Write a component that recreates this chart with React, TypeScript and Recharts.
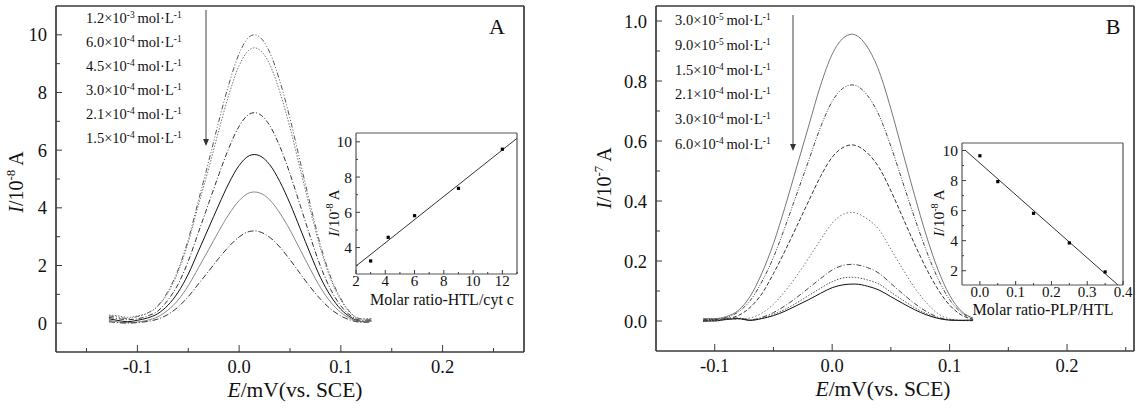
import React from "react";
import { LineChart, Line, XAxis, YAxis, ComposedChart, Scatter } from "recharts";

const FONT = '"Liberation Serif", "Times New Roman", serif';
const AXIS = "#3a3a3a";

// ---- panel A: DPV curves, E (V) vs I (1e-8 A)
const potA = [-0.128, -0.12, -0.11, -0.1, -0.09, -0.08, -0.07, -0.06, -0.05, -0.04, -0.03, -0.02, -0.01, 0, 0.01, 0.015, 0.02, 0.03, 0.04, 0.05, 0.06, 0.07, 0.08, 0.09, 0.1, 0.11, 0.12, 0.13];
const curA1 = [0.25, 0.22, 0.16, 0.23, 0.35, 0.6, 1.1, 1.85, 2.9, 4.25, 5.6, 7.0, 8.3, 9.35, 9.93, 10.0, 9.93, 9.4, 8.4, 7.1, 5.6, 4.1, 2.7, 1.6, 0.85, 0.35, 0.15, 0.15];
const curA2 = [0.28, 0.26, 0.2, 0.25, 0.35, 0.58, 1.05, 1.78, 2.8, 4.1, 5.35, 6.68, 7.93, 8.93, 9.48, 9.55, 9.48, 8.98, 8.02, 6.78, 5.35, 3.92, 2.58, 1.53, 0.8, 0.33, 0.14, 0.15];
const curA3 = [0.2, 0.16, 0.12, 0.15, 0.25, 0.42, 0.8, 1.35, 2.15, 3.15, 4.15, 5.15, 6.08, 6.83, 7.25, 7.3, 7.25, 6.86, 6.13, 5.18, 4.09, 2.99, 1.97, 1.17, 0.6, 0.25, 0.1, 0.12];
const curA4 = [0.15, 0.1, 0.05, 0.1, 0.18, 0.33, 0.62, 1.07, 1.7, 2.5, 3.3, 4.1, 4.86, 5.47, 5.81, 5.85, 5.81, 5.5, 4.91, 4.15, 3.28, 2.4, 1.58, 0.94, 0.48, 0.2, 0.06, 0.08];
const curA5 = [0.1, 0.05, 0.02, 0.04, 0.1, 0.22, 0.45, 0.8, 1.3, 1.92, 2.55, 3.19, 3.78, 4.25, 4.52, 4.55, 4.52, 4.28, 3.82, 3.23, 2.55, 1.87, 1.23, 0.73, 0.37, 0.15, 0.05, 0.06];
const curA6 = [0.05, 0.02, 0, 0.02, 0.06, 0.14, 0.3, 0.56, 0.92, 1.36, 1.8, 2.25, 2.66, 2.99, 3.18, 3.2, 3.17, 2.98, 2.64, 2.2, 1.72, 1.25, 0.83, 0.49, 0.25, 0.1, 0.03, 0.04];
const concA = [["1.2", "-3"], ["6.0", "-4"], ["4.5", "-4"], ["3.0", "-4"], ["2.1", "-4"], ["1.5", "-4"]];

// ---- panel B: DPV curves, E (V) vs I (1e-7 A)
const potB = [-0.11, -0.1, -0.09, -0.08, -0.07, -0.06, -0.05, -0.04, -0.03, -0.02, -0.01, 0, 0.01, 0.017, 0.02, 0.03, 0.04, 0.05, 0.06, 0.07, 0.08, 0.09, 0.1, 0.11, 0.12];
const curB1 = [0.008, 0.008, 0.015, 0.035, 0.081, 0.158, 0.258, 0.382, 0.516, 0.65, 0.784, 0.889, 0.945, 0.956, 0.953, 0.913, 0.832, 0.707, 0.564, 0.421, 0.287, 0.172, 0.086, 0.033, 0.01];
const curB2 = [0.005, 0.006, 0.012, 0.03, 0.067, 0.13, 0.212, 0.315, 0.425, 0.535, 0.645, 0.732, 0.778, 0.787, 0.785, 0.752, 0.685, 0.582, 0.464, 0.346, 0.236, 0.142, 0.071, 0.028, 0.008];
const curB3 = [0.005, 0.005, 0.008, 0.018, 0.045, 0.09, 0.158, 0.235, 0.317, 0.4, 0.481, 0.546, 0.58, 0.587, 0.585, 0.56, 0.511, 0.434, 0.346, 0.258, 0.176, 0.106, 0.053, 0.02, 0.006];
const curB4 = [0.005, 0.005, 0.006, 0.006, 0.01, 0.026, 0.056, 0.1, 0.152, 0.21, 0.27, 0.326, 0.357, 0.362, 0.36, 0.34, 0.304, 0.239, 0.174, 0.112, 0.062, 0.025, 0.007, 0.002, 0];
const curB5 = [0.0, 0.003, 0.008, 0.01, 0.004, 0.012, 0.028, 0.051, 0.079, 0.11, 0.141, 0.17, 0.186, 0.189, 0.188, 0.178, 0.159, 0.125, 0.091, 0.059, 0.032, 0.013, 0.004, 0.002, 0.003];
const curB6 = [0.0, 0.002, 0.006, 0.008, 0.003, 0.009, 0.022, 0.039, 0.061, 0.085, 0.109, 0.131, 0.144, 0.146, 0.145, 0.137, 0.123, 0.096, 0.07, 0.045, 0.025, 0.01, 0.003, 0.002, 0.003];
const curB7 = [0.0, 0.0, 0.005, 0.008, 0.002, 0.008, 0.018, 0.033, 0.052, 0.071, 0.092, 0.111, 0.121, 0.123, 0.123, 0.116, 0.103, 0.081, 0.059, 0.038, 0.021, 0.009, 0.003, 0.002, 0.003];
const concB = [["3.0", "-5"], ["9.0", "-5"], ["1.5", "-4"], ["2.1", "-4"], ["3.0", "-4"], ["6.0", "-4"]];

// ---- insets
const ratioHTL = [3, 4.2, 6, 9, 12];
const peakHTL = [3.24, 4.58, 5.81, 7.36, 9.58];
const fitHTLx = [2, 13];
const fitHTLy = [2.95, 10.2];
const ratioPLP = [0, 0.05, 0.15, 0.25, 0.35];
const peakPLP = [9.65, 7.93, 5.82, 3.85, 1.92];
const fitPLPx = [-0.04, 0.386];
const fitPLPy = [10.0, 1.05];

// ---- ticks
const aXTicks = [-0.15, -0.1, -0.05, 0, 0.05, 0.1, 0.15, 0.2, 0.25];
const aXLabels = [-0.1, 0, 0.1, 0.2];
const aYTicks = [0, 1, 2, 3, 4, 5, 6, 7, 8, 9, 10];
const aYLabels = [0, 2, 4, 6, 8, 10];
const bXTicks = [-0.1, -0.05, 0, 0.05, 0.1, 0.15, 0.2, 0.25];
const bXLabels = [-0.1, 0, 0.1, 0.2];
const bYTicks = [0, 0.1, 0.2, 0.3, 0.4, 0.5, 0.6, 0.7, 0.8, 0.9, 1.0];
const bYLabels = [0, 0.2, 0.4, 0.6, 0.8, 1.0];
const iaXTicks = [2, 3, 4, 5, 6, 7, 8, 9, 10, 11, 12, 13];
const iaXLabels = [2, 4, 6, 8, 10, 12];
const iaYTicks = [3, 4, 5, 6, 7, 8, 9, 10];
const iaYLabels = [4, 6, 8, 10];
const ibXTicks = [0, 0.05, 0.1, 0.15, 0.2, 0.25, 0.3, 0.35, 0.4];
const ibXLabels = [0, 0.1, 0.2, 0.3, 0.4];
const ibYTicks = [2, 3, 4, 5, 6, 7, 8, 9, 10];
const ibYLabels = [2, 4, 6, 8, 10];

const stylesA = [
  { stroke: "#555", dash: "5 2 1 2 1 2" },
  { stroke: "#777", dash: "1.5 1.5" },
  { stroke: "#333", dash: "5 2 1 2" },
  { stroke: "#111", dash: undefined },
  { stroke: "#888", dash: undefined },
  { stroke: "#333", dash: "6 2 1 2" },
];
const stylesB = [
  { stroke: "#777", dash: undefined },
  { stroke: "#444", dash: "4 1.5 1 1.5 1 1.5" },
  { stroke: "#333", dash: "4 2" },
  { stroke: "#777", dash: "1.5 2" },
  { stroke: "#444", dash: "5 2 1 2" },
  { stroke: "#555", dash: "1.5 1.5" },
  { stroke: "#111", dash: undefined },
];

const dataA = potA.map((x, i) => {
  const row: any = { x };
  [curA1, curA2, curA3, curA4, curA5, curA6].forEach((c, k) => (row["c" + k] = c[i]));
  return row;
});
const dataB = potB.map((x, i) => {
  const row: any = { x };
  [curB1, curB2, curB3, curB4, curB5, curB6, curB7].forEach((c, k) => (row["c" + k] = c[i]));
  return row;
});
const htlPts = ratioHTL.map((x, i) => ({ x, y: peakHTL[i] }));
const htlFit = fitHTLx.map((x, i) => ({ x, y: fitHTLy[i] }));
const plpPts = ratioPLP.map((x, i) => ({ x, y: peakPLP[i] }));
const plpFit = fitPLPx.map((x, i) => ({ x, y: fitPLPy[i] }));

const isIn = (v: number, list: number[]) => list.some((l) => Math.abs(l - v) < 1e-6);

type TickOpts = { labels: number[]; fmt: (v: number) => string; gap: number; major: number; minor: number; size: number };

function leftTick(o: TickOpts) {
  return (p: any) => {
    const v = p.payload.value;
    const big = isIn(v, o.labels);
    const ax = p.x + o.gap;
    return (
      <g>
        <line x1={ax} x2={ax + (big ? o.major : o.minor)} y1={p.y} y2={p.y} stroke={AXIS} strokeWidth={1} />
        {big && (
          <text x={p.x} y={p.y} dy="0.36em" textAnchor="end" fontSize={o.size} fontFamily={FONT} fill="#111">
            {o.fmt(v)}
          </text>
        )}
      </g>
    );
  };
}

function bottomTick(o: TickOpts) {
  return (p: any) => {
    const v = p.payload.value;
    const big = isIn(v, o.labels);
    const ay = p.y - o.gap;
    return (
      <g>
        <line x1={p.x} x2={p.x} y1={ay} y2={ay - (big ? o.major : o.minor)} stroke={AXIS} strokeWidth={1} />
        {big && (
          <text x={p.x} y={p.y} dy="0.72em" textAnchor="middle" fontSize={o.size} fontFamily={FONT} fill="#111">
            {o.fmt(v)}
          </text>
        )}
      </g>
    );
  };
}

const f1 = (v: number) => v.toFixed(1);
const f0 = (v: number) => String(Math.round(v));

function MainPanel(props: {
  data: any[];
  styles: { stroke: string; dash?: string }[];
  xd: [number, number];
  yd: [number, number];
  xTicks: number[];
  xLabels: number[];
  yTicks: number[];
  yLabels: number[];
  yFmt: (v: number) => string;
  width: number;
  margin: any;
}) {
  const axisLine = { stroke: AXIS, strokeWidth: 1.7 };
  return (
    <LineChart width={props.width} height={408} data={props.data} margin={props.margin}>
      <XAxis
        dataKey="x"
        type="number"
        domain={props.xd}
        allowDataOverflow
        ticks={props.xTicks}
        interval={0}
        height={30}
        tickSize={0}
        tickLine={false}
        tickMargin={8}
        axisLine={axisLine}
        tick={bottomTick({ labels: props.xLabels, fmt: f1, gap: 8, major: 7, minor: 4, size: 18.5 })}
      />
      <XAxis xAxisId="top" orientation="top" type="number" domain={props.xd} height={1} tick={false} tickLine={false} axisLine={axisLine} />
      <YAxis
        type="number"
        domain={props.yd}
        allowDataOverflow
        ticks={props.yTicks}
        interval={0}
        width={40}
        tickSize={0}
        tickLine={false}
        tickMargin={9}
        axisLine={axisLine}
        tick={leftTick({ labels: props.yLabels, fmt: props.yFmt, gap: 9, major: 6, minor: 4, size: 18.5 })}
      />
      <YAxis yAxisId="right" orientation="right" type="number" domain={props.yd} width={1} tick={false} tickLine={false} axisLine={axisLine} />
      {props.styles.map((s, k) => (
        <Line
          key={k}
          dataKey={"c" + k}
          type="monotone"
          stroke={s.stroke}
          strokeDasharray={s.dash}
          strokeWidth={1}
          dot={false}
          isAnimationActive={false}
        />
      ))}
    </LineChart>
  );
}

function Inset(props: {
  pts: any[];
  fit: any[];
  xd: [number, number];
  yd: [number, number];
  xTicks: number[];
  xLabels: number[];
  xFmt: (v: number) => string;
  yTicks: number[];
  yLabels: number[];
  width: number;
  margin: any;
}) {
  const axisLine = { stroke: "#555", strokeWidth: 1.2 };
  return (
    <ComposedChart width={props.width} height={200} margin={props.margin}>
      <XAxis
        dataKey="x"
        type="number"
        domain={props.xd}
        allowDataOverflow
        ticks={props.xTicks}
        interval={0}
        height={30}
        tickSize={0}
        tickLine={false}
        tickMargin={1}
        axisLine={axisLine}
        tick={bottomTick({ labels: props.xLabels, fmt: props.xFmt, gap: 1, major: 4, minor: 2, size: 15 })}
      />
      <XAxis xAxisId="top" orientation="top" type="number" domain={props.xd} height={1} tick={false} tickLine={false} axisLine={axisLine} />
      <YAxis
        dataKey="y"
        type="number"
        domain={props.yd}
        allowDataOverflow
        ticks={props.yTicks}
        interval={0}
        width={30}
        tickSize={0}
        tickLine={false}
        tickMargin={4}
        axisLine={axisLine}
        tick={leftTick({ labels: props.yLabels, fmt: f0, gap: 4, major: 4, minor: 2, size: 15.5 })}
      />
      <YAxis yAxisId="right" orientation="right" type="number" domain={props.yd} width={1} tick={false} tickLine={false} axisLine={axisLine} />
      <Line data={props.fit} dataKey="y" type="linear" stroke="#333" strokeWidth={1} dot={false} isAnimationActive={false} />
      <Scatter
        data={props.pts}
        fill="#000"
        isAnimationActive={false}
        shape={(p: any) => <rect x={p.cx - 1.6} y={p.cy - 1.6} width={3.2} height={3.2} fill="#000" />}
      />
    </ComposedChart>
  );
}

const abs = (left: number, top: number): React.CSSProperties => ({ position: "absolute", left, top });
const supStyle = (size: number): React.CSSProperties => ({ fontSize: size * 0.65, verticalAlign: size * 0.38 + "px", lineHeight: 0 });

function Conc({ list, left, top, step }: { list: string[][]; left: number; top: number; step: number }) {
  return (
    <div style={{ ...abs(left, top), fontFamily: FONT, fontSize: 14.5, color: "#111", lineHeight: step + "px", whiteSpace: "nowrap" }}>
      {list.map(([m, e], i) => (
        <div key={i}>
          {m}×10<sup style={supStyle(14.5)}>{e}</sup>
          {"\u2009"}mol·L<sup style={supStyle(14.5)}>-1</sup>
        </div>
      ))}
    </div>
  );
}

function Arrow({ x, y1, y2 }: { x: number; y1: number; y2: number }) {
  return (
    <svg style={{ ...abs(x - 5, y1), overflow: "visible" }} width={10} height={y2 - y1}>
      <line x1={5} x2={5} y1={0} y2={y2 - y1 - 4} stroke="#444" strokeWidth={1} />
      <path d={`M2,${y2 - y1 - 7} L5,${y2 - y1} L8,${y2 - y1 - 7} Z`} fill="#333" />
    </svg>
  );
}

function YTitle({ x, y, exp, size }: { x: number; y: number; exp: string; size: number }) {
  return (
    <div
      style={{
        ...abs(x, y),
        transform: "translate(-50%, -50%) rotate(-90deg)",
        fontFamily: FONT,
        fontSize: size,
        whiteSpace: "nowrap",
        color: "#111",
      }}
    >
      <i>I</i>/10<sup style={supStyle(size)}>{exp}</sup> A
    </div>
  );
}

function Title({ x, y, size, children }: { x: number; y: number; size: number; children: React.ReactNode }) {
  return (
    <div
      style={{
        ...abs(x, y),
        transform: "translate(-50%, -50%)",
        fontFamily: FONT,
        fontSize: size,
        lineHeight: 1,
        whiteSpace: "nowrap",
        color: "#111",
      }}
    >
      {children}
    </div>
  );
}

export default function App() {
  return (
    <div style={{ position: "absolute", left: 0, top: 0, width: 1143, height: 408, background: "#fff", overflow: "hidden" }}>
      <div style={abs(0, 0)}>
        <MainPanel
          data={dataA}
          styles={stylesA}
          xd={[-0.18, 0.28]}
          yd={[-1, 11]}
          xTicks={aXTicks}
          xLabels={aXLabels}
          yTicks={aYTicks}
          yLabels={aYLabels}
          yFmt={f0}
          width={560}
          margin={{ top: 5, left: 16, right: 35, bottom: 26 }}
        />
      </div>
      <div style={abs(560, 0)}>
        <MainPanel
          data={dataB}
          styles={stylesB}
          xd={[-0.15, 0.257]}
          yd={[-0.1, 1.05]}
          xTicks={bXTicks}
          xLabels={bXLabels}
          yTicks={bYTicks}
          yLabels={bYLabels}
          yFmt={f1}
          width={583}
          margin={{ top: 5, left: 56, right: 8, bottom: 27 }}
        />
      </div>
      <div style={abs(300, 120)}>
        <Inset
          pts={htlPts}
          fit={htlFit}
          xd={[2, 13]}
          yd={[2.5, 10.5]}
          xTicks={iaXTicks}
          xLabels={iaXLabels}
          xFmt={f0}
          yTicks={iaYTicks}
          yLabels={iaYLabels}
          width={230}
          margin={{ top: 12, left: 26, right: 12, bottom: 16 }}
        />
      </div>
      <div style={abs(900, 130)}>
        <Inset
          pts={plpPts}
          fit={plpFit}
          xd={[-0.05, 0.4]}
          yd={[1.05, 10.5]}
          xTicks={ibXTicks}
          xLabels={ibXLabels}
          xFmt={f1}
          yTicks={ibYTicks}
          yLabels={ibYLabels}
          width={236}
          margin={{ top: 12, left: 32, right: 12, bottom: 15 }}
        />
      </div>

      <Conc list={concA} left={86} top={6} step={24} />
      <Conc list={concB} left={675} top={8} step={24.8} />
      <Arrow x={206} y1={10} y2={146} />
      <Arrow x={793} y1={15} y2={151} />

      <Title x={497} y={27} size={22}>A</Title>
      <Title x={1113} y={27} size={22}>B</Title>

      <YTitle x={16} y={182} exp="-8" size={20} />
      <YTitle x={604} y={178} exp="-7" size={20} />
      <Title x={295} y={391} size={21.5}>
        <i>E</i>/mV(vs. SCE)
      </Title>
      <Title x={883} y={390} size={21.5}>
        <i>E</i>/mV(vs. SCE)
      </Title>

      <YTitle x={334} y={213} exp="-8" size={15.5} />
      <YTitle x={939} y={213} exp="-8" size={15.5} />
      <Title x={442} y={300} size={16}>Molar ratio-HTL/cyt c</Title>
      <Title x={1043} y={310} size={16}>Molar ratio-PLP/HTL</Title>
    </div>
  );
}
